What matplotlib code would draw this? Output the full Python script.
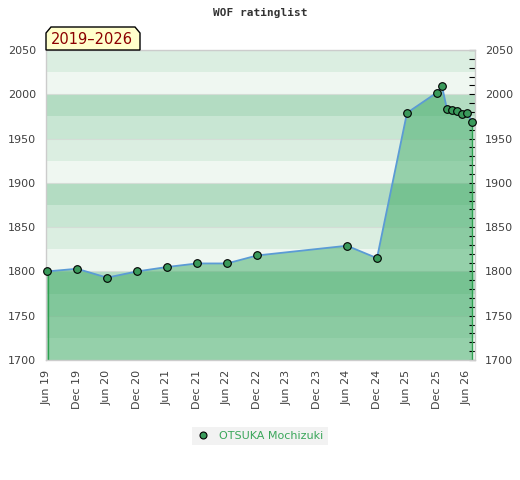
import matplotlib
matplotlib.use("Agg")
import matplotlib.pyplot as plt
from matplotlib.patches import Polygon
from matplotlib.lines import Line2D
from matplotlib.ticker import MultipleLocator

# months counted from Jun 2019
months = [0, 6, 12, 18, 24, 30, 36, 42, 60, 66, 72, 78, 79, 80, 81, 82, 83, 84, 85]
ratings = [1800, 1803, 1793, 1800, 1805, 1809, 1809, 1818, 1829, 1815,
           1979, 2002, 2009, 1983, 1982, 1981, 1978, 1979, 1969]

tick_months = list(range(0, 85, 6))
tick_labels = ["Jun 19", "Dec 19", "Jun 20", "Dec 20", "Jun 21", "Dec 21", "Jun 22", "Dec 22",
               "Jun 23", "Dec 23", "Jun 24", "Dec 24", "Jun 25", "Dec 25", "Jun 26"]

player = "OTSUKA Mochizuki"
period = "2019\u20132026"

W, H = 520, 480
fig = plt.figure(figsize=(W / 100, H / 100), dpi=100)
ax = fig.add_axes([46 / W, 1 - 360 / H, (475 - 46) / W, (360 - 50) / H])

# background bands, 25 points each
band_colors = ["#dbeee1", "#eff7f1", "#b3dcc2", "#c8e6d3"]
for k, top in enumerate(range(2050, 1700, -25)):
    ax.axhspan(top - 25, top, color=band_colors[k % 4], lw=0, zorder=0)
for y in range(1700, 2051, 50):
    ax.axhline(y, color="#d4ddd6", lw=0.8, zorder=0.5)

ax.fill_between(months, ratings, 1700, facecolor="#3caa64", alpha=0.5,
                edgecolor="none", zorder=1)
ax.vlines([months[0] + 0.15, months[-1]], 1700, [ratings[0], ratings[-1]],
          color="#2ea050", lw=1, zorder=2)
ax.plot(months, ratings, color="#5b9bd5", lw=1.3, zorder=3)
ax.plot(months, ratings, ls="none", marker="o", ms=5.5, mfc="#3a9a5b",
        mec="black", mew=0.8, zorder=4, clip_on=False)

ax.set_xlim(-0.2, 85.6)
ax.set_ylim(1700, 2050)

ax.set_xticks(tick_months)
ax.set_xticklabels(tick_labels, rotation=90)
ax.yaxis.set_major_locator(MultipleLocator(50))
ax.yaxis.set_minor_locator(MultipleLocator(10))
ax.tick_params(axis="x", length=0, pad=7, labelsize=8, labelcolor="#404040")
ax.tick_params(axis="y", which="both", left=False, right=True, labelleft=True,
               labelright=True, direction="in", length=4, width=0.8, color="black")
ax.tick_params(axis="y", which="major", pad=7, labelsize=8, labelcolor="#404040")

for s in ax.spines.values():
    s.set_color("#cccccc")
    s.set_linewidth(1)

fig.text(260 / W, 1 - 13 / H, "WOF ratinglist", ha="center", va="center",
         family="DejaVu Sans Mono", weight="bold", fontsize=8, color="#333333")

# period label with chamfered top corners
pts = [(46, 50), (46, 33), (51, 27), (135, 27), (140, 33), (140, 50)]
fig.patches.append(Polygon([(x / W, 1 - y / H) for x, y in pts], closed=True,
                           transform=fig.transFigure, facecolor="#ffffcc",
                           edgecolor="black", lw=1, zorder=5))
fig.text(92 / W, 1 - 40 / H, period, ha="center", va="center", fontsize=10.5,
         color="#8b0000", zorder=6)

handle = Line2D([], [], ls="none", marker="o", ms=5, mfc="#3a9a5b", mec="black", mew=0.8)
leg = ax.legend([handle], [player], loc="center", bbox_to_anchor=(260 / W, 1 - 436 / H),
                bbox_transform=fig.transFigure, frameon=True, fancybox=False,
                facecolor="#efefef", edgecolor="#efefef", fontsize=8,
                labelcolor="#3aa65a", handlelength=1.2, handletextpad=0.8,
                borderpad=0.4)
leg.get_frame().set_linewidth(0)

fig.savefig("out.png", dpi=100)
